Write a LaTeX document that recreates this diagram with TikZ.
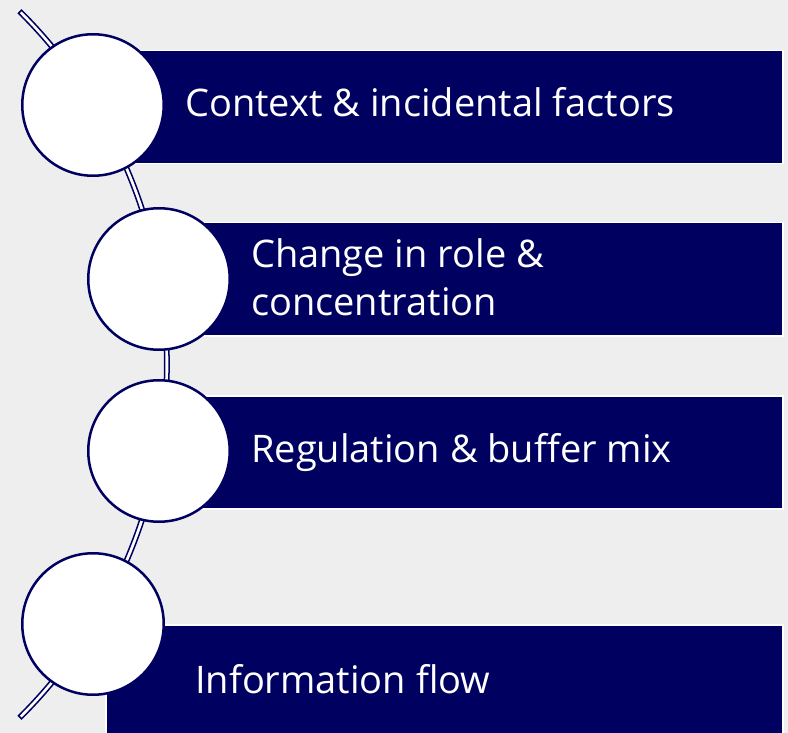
\documentclass[tikz,border=0pt]{standalone}
\usepackage{fontspec}
\setmainfont{Open Sans}
\usetikzlibrary{calc}
\definecolor{navy}{RGB}{0,0,96}
\definecolor{bggray}{RGB}{238,238,238}
\begin{document}
\begin{tikzpicture}[x=1pt,y=1pt,
  bar/.style={fill=navy, draw=white, line width=1.5pt},
  dot/.style={circle, fill=white, draw=navy, line width=2.5pt, minimum size=141.5pt, inner sep=0pt},
  lbl/.style={text=white, anchor=base west, inner sep=0pt, font=\fontsize{38}{47}\selectfont, align=left}]
\useasboundingbox (0,0) rectangle (788,-733);
\fill[bggray] (0,0) rectangle (788,-733);
\clip (0,0) rectangle (788,-733);
% curved double line
\coordinate (arcC) at (-330.3,-364.5);
\draw[navy, line width=1.5pt, fill=white]
  ($(arcC)+(-45.2:499.4)$) arc[start angle=-45.2, end angle=45.2, radius=499.4]
  -- ($(arcC)+(45.2:495.0)$) arc[start angle=45.2, end angle=-45.2, radius=495.0] -- cycle;
% bars
\node[bar, anchor=north west, minimum width=687pt, minimum height=113pt, inner sep=0pt] (b1) at (95,-50) {};
\node[bar, anchor=north west, minimum width=621pt, minimum height=113pt, inner sep=0pt] (b2) at (161,-222) {};
\node[bar, anchor=north west, minimum width=621pt, minimum height=113pt, inner sep=0pt] (b3) at (161,-395) {};
\node[bar, anchor=north west, minimum width=677pt, minimum height=113pt, inner sep=0pt] (b4) at (105,-624) {};
% circles
\node[dot] (c1) at (93,-105) {};
\node[dot] (c2) at (159,-279) {};
\node[dot] (c3) at (159,-451) {};
\node[dot] (c4) at (93,-624) {};
% labels
\node[lbl] (t1) at (185,-117) {Context \& incidental factors};
\node[lbl] (t2a) at (251,-268) {Change in role \&};
\node[lbl] (t2b) at (251,-315) {concentration};
\node[lbl] (t3) at (251,-462) {Regulation \& buffer mix};
\node[lbl] (t4) at (195,-693) {Information flow};
\end{tikzpicture}
\end{document}
